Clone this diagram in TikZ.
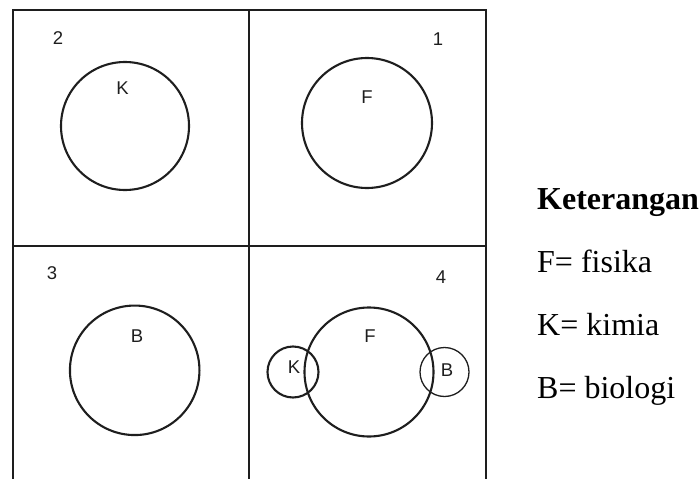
\documentclass[tikz,border=0pt]{standalone}
\usepackage{fontspec}
\setmainfont{Liberation Serif}
\newfontfamily\labelfont{Liberation Sans}
\definecolor{ink}{HTML}{1E1E1E}
\begin{document}
\begin{tikzpicture}[x=1pt,y=-1pt,
  frame/.style={draw=ink,line width=2pt},
  setc/.style={circle,draw=ink,line width=2.1pt,inner sep=0pt},
  thinc/.style={circle,draw=ink,line width=1.3pt,inner sep=0pt},
  lbl/.style={inner sep=0pt,font=\labelfont\fontsize{18.5}{18.5}\selectfont,text=ink},
  legend/.style={anchor=base west,inner sep=0pt,font=\fontsize{32}{32}\selectfont,text=black}]
\useasboundingbox (0,0) rectangle (699,479);
% frame
\coordinate (tl) at (13,10);
\coordinate (tm) at (248.8,10);
\coordinate (tr) at (486,10);
\coordinate (bl) at (13,479);
\coordinate (bm) at (248.8,479);
\coordinate (br) at (486,479);
\coordinate (ml) at (13,246);
\coordinate (mr) at (486,246);
\draw[frame] (bl) -- (tl) -- (tr) -- (br);
\draw[frame] (tm) -- (bm);
\draw[frame] (ml) -- (mr);
% panel 2
\node[lbl] (n2) at (58,38.5) {2};
\node[setc,minimum size=128pt] (c2) at (125,126) {};
\node[lbl] (k2) at (122.5,88.5) {K};
% panel 1
\node[lbl] (n1) at (438,39.5) {1};
\node[setc,minimum size=130pt] (c1) at (367,123) {};
\node[lbl] (f1) at (367,97) {F};
% panel 3
\node[lbl] (n3) at (52,273.5) {3};
\node[setc,minimum size=129.5pt] (c3) at (134.7,370.3) {};
\node[lbl] (b3) at (137,336) {B};
% panel 4
\node[lbl] (n4) at (441,277) {4};
\node[setc,minimum size=129pt] (c4f) at (369,372) {};
\node[setc,minimum size=51pt] (c4k) at (293,372) {};
\node[thinc,minimum size=49pt] (c4b) at (444.5,372) {};
\node[lbl] (f4) at (370,336) {F};
\node[lbl] (k4) at (294,367) {K};
\node[lbl] (b4) at (447,370.5) {B};
% legend
\node[legend,font=\bfseries\fontsize{32}{32}\selectfont] (leg) at (537,209) {Keterangan};
\node[legend] (lf) at (537,272) {F= fisika};
\node[legend] (lk) at (537,335) {K= kimia};
\node[legend] (lb) at (537,398) {B= biologi};
\end{tikzpicture}
\end{document}
